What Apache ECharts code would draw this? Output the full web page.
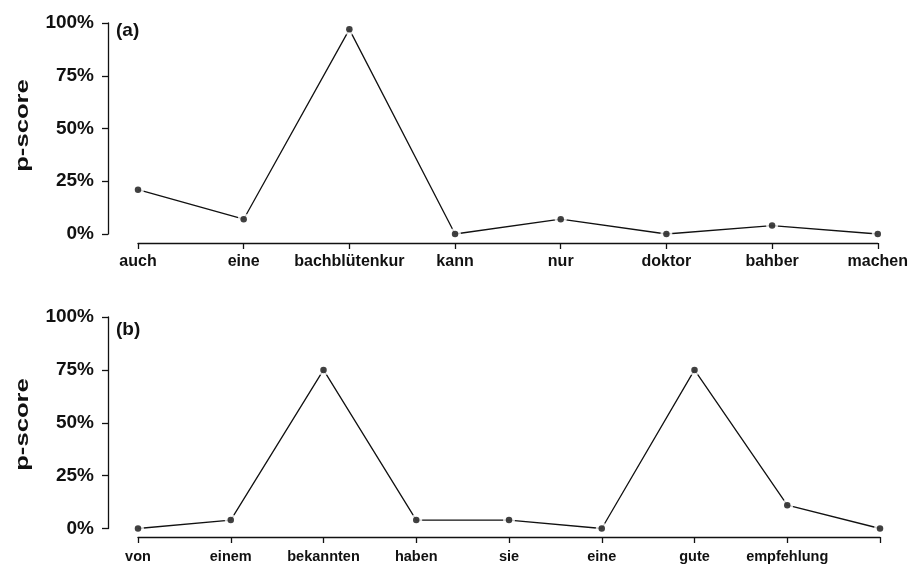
<!DOCTYPE html>
<html>
<head>
<meta charset="utf-8">
<script src="https://cdn.jsdelivr.net/npm/echarts@6/dist/echarts.min.js"></script>
<style>
html,body{margin:0;padding:0;background:#fff;}
#chart{width:911px;height:564px;}
</style>
</head>
<body>
<div id="chart"></div>
<script>
const catsA = ['auch','eine','bachblütenkur','kann','nur','doktor','bahber','machen'];
const valsA = [21, 7, 97, 0, 7, 0, 4, 0];
const catsB = ['von','einem','bekannten','haben','sie','eine','gute','empfehlung',''];
const valsB = [0, 4, 75, 4, 4, 0, 75, 11, 0];
const yTicks = [0, 25, 50, 75, 100];
const panelLabels = ['(a)','(b)'];
const yTitle = 'p-score';

const FONT = 'Liberation Sans, Arial, Helvetica, sans-serif';
const INK = '#111111';

const chart = echarts.init(document.getElementById('chart'));

function xAxisFor(idx, cats, offset, fs, margin){
  return {
    type:'category', gridIndex:idx, data:cats, boundaryGap:false, offset:offset,
    axisLine:{show:true, onZero:false, lineStyle:{color:INK, width:1.3}},
    axisTick:{show:true, length:6, inside:false, lineStyle:{color:INK, width:1.3}},
    axisLabel:{show:true, margin:margin, fontFamily:FONT, fontWeight:'bold', fontSize:fs, color:INK, interval:0},
    splitLine:{show:false}
  };
}
function yAxisFor(idx){
  return {
    type:'value', gridIndex:idx, min:yTicks[0], max:yTicks[yTicks.length-1], interval:25, offset:30,
    axisLine:{show:true, onZero:false, lineStyle:{color:INK, width:1.3}},
    axisTick:{show:true, length:6, lineStyle:{color:INK, width:1.3}},
    axisLabel:{show:true, margin:14, fontFamily:FONT, fontWeight:'bold', fontSize:19, color:INK, formatter:v=>v+'%'},
    splitLine:{show:false}
  };
}
function seriesFor(idx, vals){
  return [
    {type:'line', xAxisIndex:idx, yAxisIndex:idx, data:vals, showSymbol:false, symbol:'none',
     lineStyle:{color:INK, width:1.3}, silent:true, animation:false, z:2},
    {type:'scatter', xAxisIndex:idx, yAxisIndex:idx, data:vals, symbol:'circle', symbolSize:12,
     itemStyle:{color:'#ffffff'}, silent:true, animation:false, z:3},
    {type:'scatter', xAxisIndex:idx, yAxisIndex:idx, data:vals, symbol:'circle', symbolSize:6.5,
     itemStyle:{color:INK}, silent:true, animation:false, z:4}
  ];
}

function titleText(y){
  return {type:'text', x:22.5, y:y, rotation:Math.PI/2, scaleX:1.35, scaleY:1,
    style:{text:yTitle, font:'bold 19px '+FONT, fill:INK, align:'center', verticalAlign:'middle'}};
}

chart.setOption({
  animation:false,
  grid:[
    {left:138, right:31, top:23, bottom:330, containLabel:false},
    {left:138, right:31, top:317, bottom:33, containLabel:false}
  ],
  xAxis:[xAxisFor(0, catsA, 9, 16, 11), xAxisFor(1, catsB, 8.5, 14.5, 12)],
  yAxis:[yAxisFor(0), yAxisFor(1)],
  series:[...seriesFor(0, valsA), ...seriesFor(1, valsB)],
  graphic:[
    {type:'text', left:116, top:21, style:{text:panelLabels[0], font:'bold 19px '+FONT, fill:INK}},
    {type:'text', left:116, top:320, style:{text:panelLabels[1], font:'bold 19px '+FONT, fill:INK}},
    titleText(125.5),
    titleText(424.5)
  ]
});
</script>
</body>
</html>
